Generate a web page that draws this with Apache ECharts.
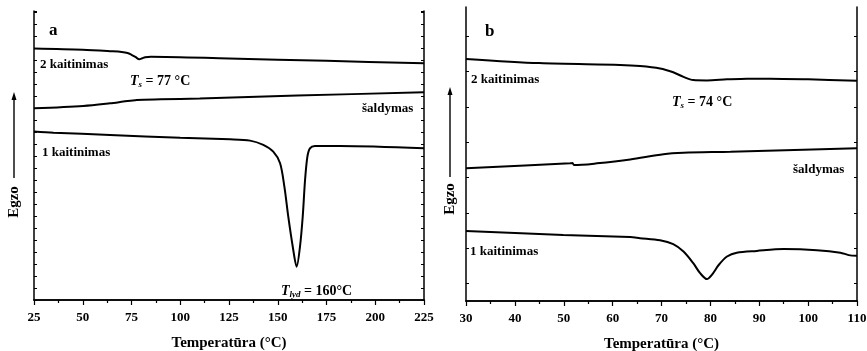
<!DOCTYPE html>
<html><head><meta charset="utf-8">
<script src="https://cdn.jsdelivr.net/npm/echarts@6/dist/echarts.min.js"></script>
<style>html,body{margin:0;padding:0;background:#fff}#c{width:867px;height:351px}</style>
</head><body><div id="c"></div>
<script>
// Panel a
const heat2A_T = [25, 50, 65, 70, 73, 75, 77, 79, 80.5, 82, 85, 125, 175, 225];
const heat2A_V = [20.96, 20.86, 20.73, 20.67, 20.58, 20.43, 20.25, 20.06, 20.14, 20.23, 20.27, 20.12, 19.93, 19.72];
const coolA_T = [25, 50.3, 64, 70.8, 77.7, 90, 110, 160, 225];
const coolA_V = [15.97, 16.17, 16.39, 16.53, 16.67, 16.72, 16.78, 17.03, 17.31];
const heat1A_T = [25, 35, 64, 100, 125.5, 135.8, 142.6, 147.7, 151.2, 153.4, 155.4, 157.7, 159.7, 161.4, 162.8, 164.0, 165.2, 166.5, 169.1, 181.9, 225];
const heat1A_V = [14.03, 13.94, 13.75, 13.52, 13.39, 13.28, 12.92, 12.36, 11.39, 9.44, 6.94, 4.44, 2.78, 4.44, 6.94, 10.0, 11.94, 12.64, 12.83, 12.83, 12.64];
// Panel b
const heat2B_T = [30, 45, 61.5, 65.6, 69.7, 72.4, 74.5, 76.5, 79.3, 83.4, 87.5, 92.2, 100, 110];
const heat2B_V = [6.86, 6.74, 6.69, 6.66, 6.59, 6.48, 6.35, 6.26, 6.25, 6.28, 6.30, 6.30, 6.28, 6.24];
const coolB_T = [30, 51.3, 51.8, 52.1, 56.8, 63.6, 70.4, 74.5, 84.1, 110];
const coolB_V = [3.76, 3.90, 3.91, 3.85, 3.90, 4.01, 4.16, 4.20, 4.23, 4.33];
const heat1B_T = [30, 49.9, 63.6, 65.6, 69.7, 72.4, 74.5, 76.5, 77.9, 79.3, 80.3, 81.7, 83.4, 85.4, 89.5, 95, 101.8, 106.6, 108.3, 110];
const heat1B_V = [1.98, 1.87, 1.81, 1.78, 1.72, 1.61, 1.40, 1.07, 0.79, 0.62, 0.74, 1.02, 1.26, 1.37, 1.42, 1.47, 1.44, 1.37, 1.30, 1.28];
// ticks
const xTicksA = ['25','50','75','100','125','150','175','200','225'];
const xTicksB = ['30','40','50','60','70','80','90','100','110'];

const zip = (a, b) => a.map((t, i) => [t, b[i]]);
const FONT = '"Liberation Serif", "Times New Roman", serif';
const axisLine = {show: true, lineStyle: {color: '#000', width: 1.5}};

function bottomAxis(gi, min, max, interval) {
  return {type: 'value', gridIndex: gi, min, max, interval, position: 'bottom',
    axisLine, splitLine: {show: false},
    axisTick: {show: true, inside: false, length: 5, lineStyle: {color: '#000', width: 1.2}},
    minorTick: {show: true, splitNumber: 2, length: 3, lineStyle: {color: '#000', width: 1.2}},
    axisLabel: {show: true, color: '#000', fontFamily: FONT, fontWeight: 'bold', fontSize: 13, margin: 11},
    name: 'Temperatūra (°C)', nameLocation: 'middle', nameGap: 36,
    nameTextStyle: {color: '#000', fontFamily: FONT, fontWeight: 'bold', fontSize: 15}};
}
function topAxis(gi, min, max, interval) {
  return {type: 'value', gridIndex: gi, min, max, interval, position: 'top',
    axisLine, splitLine: {show: false},
    axisTick: {show: true, inside: true, length: 3, lineStyle: {color: '#000', width: 1}},
    axisLabel: {show: false}};
}
function yAx(gi, pos, max, extraTick) {
  const t = {show: true, inside: true, length: 3, lineStyle: {color: '#000', width: 1}};
  if (extraTick) t.customValues = extraTick;
  return {type: 'value', gridIndex: gi, min: 0, max, interval: 1, position: pos,
    axisLine, splitLine: {show: false}, axisTick: t, axisLabel: {show: false}};
}
const maxA = 24.08, maxB = 8.33;
const tickB = [0.5,1.5,2.5,3.5,4.5,5.5,6.5,7.5];

const lineSeries = (xi, yi, data) => ({type: 'line', xAxisIndex: xi, yAxisIndex: yi, data,
  showSymbol: false, smooth: 0.3,
  lineStyle: {color: '#000', width: 2}, silent: true, animation: false});

const tStyle = {fontFamily: FONT, fontWeight: 'bold', fontSize: 13, fill: '#000'};
const rich = {
  t: {fontFamily: FONT, fontWeight: 'bold', fontStyle: 'italic', fontSize: 14, color: '#000'},
  s: {fontFamily: FONT, fontWeight: 'bold', fontStyle: 'italic', fontSize: 9, color: '#000', padding: [7, 0, 0, 0]},
  n: {fontFamily: FONT, fontWeight: 'bold', fontSize: 14, color: '#000'}
};
function txt(x, y, text, size) {
  return {type: 'text', x, y, style: Object.assign({}, tStyle, {text, fontSize: size || 13, verticalAlign: 'middle'})};
}
function rtxt(x, y, text) {
  return {type: 'text', x, y, style: {text, rich, verticalAlign: 'middle'}};
}
function egzo(x, yText, yTop, yBot) {
  return [
    {type: 'text', x, y: yText, rotation: Math.PI / 2,
      style: Object.assign({}, tStyle, {text: 'Egzo', fontSize: 15, align: 'center', verticalAlign: 'middle'})},
    {type: 'line', shape: {x1: x, y1: yBot, x2: x, y2: yTop + 6}, style: {stroke: '#000', lineWidth: 1.4}},
    {type: 'polygon', shape: {points: [[x, yTop], [x - 2.5, yTop + 8], [x + 2.5, yTop + 8]]}, style: {fill: '#000'}}
  ];
}

const chart = echarts.init(document.getElementById('c'), null, {renderer: 'canvas'});
chart.setOption({
  backgroundColor: '#fff',
  animation: false,
  grid: [
    {left: 34, top: 11, width: 390, height: 289, containLabel: false, outerBoundsMode: 'none'},
    {left: 466, top: 7, width: 391, height: 294, containLabel: false, outerBoundsMode: 'none'}
  ],
  xAxis: [
    bottomAxis(0, 25, 225, 25), bottomAxis(1, 30, 110, 10),
    topAxis(0, 25, 225, 12.5), topAxis(1, 30, 110, 5)
  ],
  yAxis: [
    yAx(0, 'left', maxA), yAx(1, 'left', maxB, tickB),
    yAx(0, 'right', maxA), yAx(1, 'right', maxB, tickB)
  ],
  series: [
    lineSeries(0, 0, zip(heat2A_T, heat2A_V)),
    lineSeries(0, 0, zip(coolA_T, coolA_V)),
    lineSeries(0, 0, zip(heat1A_T, heat1A_V)),
    lineSeries(1, 1, zip(heat2B_T, heat2B_V)),
    lineSeries(1, 1, zip(coolB_T, coolB_V)),
    lineSeries(1, 1, zip(heat1B_T, heat1B_V))
  ],
  graphic: [
    txt(49, 31, 'a', 17), txt(485, 32, 'b', 17),
    txt(40, 65, '2 kaitinimas'), rtxt(130, 81, '{t|T}{s|s}{n| = 77 °C}'),
    txt(362, 109, 'šaldymas'), txt(42, 153, '1 kaitinimas'),
    rtxt(281, 291, '{t|T}{s|lyd}{n| = 160°C}'),
    txt(471, 80, '2 kaitinimas'), rtxt(672, 102, '{t|T}{s|s}{n| = 74 °C}'),
    txt(793, 170, 'šaldymas'), txt(470, 252, '1 kaitinimas'),
    ...egzo(14, 202, 92, 178), ...egzo(450, 199, 87, 177)
  ]
});
</script></body></html>
